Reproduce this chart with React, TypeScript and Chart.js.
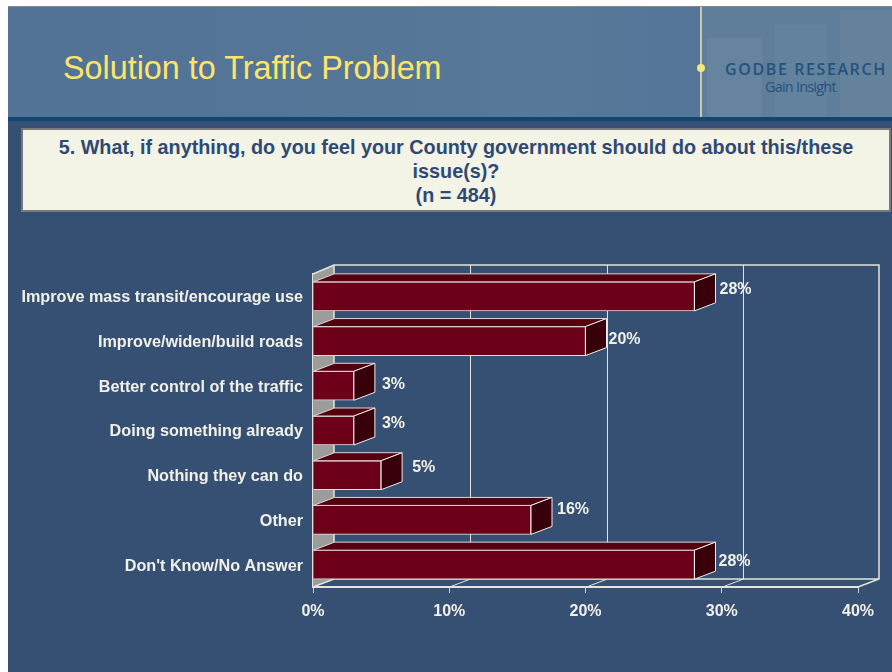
import React, { useEffect, useRef } from "react";
import { Chart, registerables } from "chart.js";

Chart.register(...registerables);

const categories = [
  "Improve mass transit/encourage use",
  "Improve/widen/build roads",
  "Better control of the traffic",
  "Doing something already",
  "Nothing they can do",
  "Other",
  "Don't Know/No Answer",
];
const percentValues = [28, 20, 3, 3, 5, 16, 28];
const axisTicks = [0, 10, 20, 30, 40];

const DEPTH_X = 21;
const DEPTH_Y = 8;
const LINE = "#e4e4dc";
const TEXT = "#f1f1e8";
const FONT = "'Liberation Sans', Arial, sans-serif";
// Hand-placed label offsets of the original slide, relative to each bar's top-right back corner.
const labelNudgeX = [4, 2, 7, 7, 10, 5, 3];
const labelNudgeY = [-7, -1.5, -1.5, -7, -8, -10.5, -3];

function poly(ctx: CanvasRenderingContext2D, pts: number[][], fill: string | null, stroke: string | null, w = 1) {
  ctx.beginPath();
  pts.forEach((p, i) => (i ? ctx.lineTo(p[0], p[1]) : ctx.moveTo(p[0], p[1])));
  ctx.closePath();
  if (fill) {
    ctx.fillStyle = fill;
    ctx.fill();
  }
  if (stroke) {
    ctx.strokeStyle = stroke;
    ctx.lineWidth = w;
    ctx.stroke();
  }
}

const box3d = {
  id: "box3d",
  beforeDatasetsDraw(chart: any) {
    const { ctx, chartArea: a, scales } = chart;
    const x = scales.x;
    const wallTop = a.top - DEPTH_Y - 1;
    ctx.save();
    // side wall
    poly(ctx, [[a.left, a.top], [a.left + DEPTH_X, wallTop], [a.left + DEPTH_X, a.bottom - DEPTH_Y], [a.left, a.bottom]], "#9c9c9c", null);
    // back wall frame
    ctx.strokeStyle = LINE;
    ctx.lineWidth = 1.5;
    ctx.beginPath();
    ctx.moveTo(a.left, a.top);
    ctx.lineTo(a.left + DEPTH_X, wallTop);
    ctx.lineTo(a.right + DEPTH_X, wallTop);
    ctx.lineTo(a.right + DEPTH_X, a.bottom - DEPTH_Y);
    ctx.lineTo(a.right, a.bottom);
    ctx.moveTo(a.left + DEPTH_X, wallTop);
    ctx.lineTo(a.left + DEPTH_X, a.bottom - DEPTH_Y);
    ctx.lineTo(a.right + DEPTH_X, a.bottom - DEPTH_Y);
    ctx.moveTo(a.left + DEPTH_X, a.bottom - DEPTH_Y);
    ctx.lineTo(a.left, a.bottom);
    ctx.stroke();
    // grid on back wall and floor
    ctx.lineWidth = 1;
    ctx.beginPath();
    axisTicks.slice(1, -1).forEach((t) => {
      const px = Math.round(x.getPixelForValue(t)) + 0.5;
      ctx.moveTo(px + DEPTH_X, wallTop);
      ctx.lineTo(px + DEPTH_X, a.bottom - DEPTH_Y);
      ctx.lineTo(px, a.bottom);
    });
    ctx.stroke();
    ctx.restore();
  },
  afterDatasetsDraw(chart: any) {
    const { ctx } = chart;
    const els = chart.getDatasetMeta(0).data;
    ctx.save();
    els.forEach((el: any, i: number) => {
      const r = el.x;
      const l = el.base;
      const t = el.y - el.height / 2;
      const b = el.y + el.height / 2;
      poly(ctx, [[l, t], [l + DEPTH_X, t - DEPTH_Y], [r + DEPTH_X, t - DEPTH_Y], [r, t]], "#55000f", "#ddd6d6");
      poly(ctx, [[r, t], [r + DEPTH_X, t - DEPTH_Y], [r + DEPTH_X, b - DEPTH_Y], [r, b]], "#38000b", "#eeeeee");
      ctx.fillStyle = TEXT;
      ctx.font = `bold 16px ${FONT}`;
      ctx.textAlign = "left";
      ctx.textBaseline = "middle";
      ctx.fillText(`${percentValues[i]}%`, r + DEPTH_X + labelNudgeX[i], el.y + labelNudgeY[i]);
    });
    ctx.restore();
  },
};

export default function App() {
  const ref = useRef<HTMLCanvasElement>(null);
  useEffect(() => {
    const chart = new Chart(ref.current as HTMLCanvasElement, {
      type: "bar",
      plugins: [box3d],
      data: {
        labels: categories,
        datasets: [
          {
            data: percentValues,
            backgroundColor: "#6b0018",
            borderColor: "#e6dcdc",
            borderWidth: 1,
            barThickness: 29,
          },
        ],
      },
      options: {
        indexAxis: "y",
        responsive: false,
        animation: false,
        maintainAspectRatio: false,
        layout: { padding: { top: 274, right: 34, left: 0, bottom: 0 } },
        plugins: { legend: { display: false }, tooltip: { enabled: false } },
        scales: {
          x: {
            min: 0,
            max: 40,
            afterFit: (s: any) => {
              s.height = 85;
            },
            afterBuildTicks: (s: any) => {
              s.ticks = axisTicks.map((value) => ({ value }));
            },
            grid: { drawOnChartArea: false, drawTicks: true, tickLength: 6, color: "#cfcfc8", lineWidth: 1 },
            border: { display: true, color: LINE, width: 2 },
            ticks: {
              maxRotation: 0,
              padding: 9,
              color: TEXT,
              font: { family: FONT, size: 16, weight: "bold" },
              callback: (v: any) => `${v}%`,
            },
          },
          y: {
            afterFit: (s: any) => {
              s.width = 313;
            },
            grid: { display: false },
            border: { display: true, color: LINE, width: 1.5 },
            ticks: {
              padding: 2,
              labelOffset: 1.5,
              color: TEXT,
              font: { family: FONT, size: 16.2, weight: "bold" },
            },
          },
        },
      } as any,
    });
    return () => chart.destroy();
  }, []);

  const abs = (left: number, top: number, width: number, height: number, extra: React.CSSProperties = {}): React.CSSProperties => ({
    position: "absolute",
    left,
    top,
    width,
    height,
    ...extra,
  });

  return (
    <div style={abs(0, 0, 892, 672, { overflow: "hidden", background: "#ffffff", fontFamily: FONT })}>
      <div style={abs(8, 6, 884, 666, { background: "#365073", borderTop: "1px solid #8a8a8a", boxSizing: "border-box" })} />
      <div style={abs(8, 7, 884, 110, { background: "linear-gradient(90deg,#527296 0%,#587899 60%,#567699 78%)" })} />
      <div style={abs(702, 7, 190, 110, { background: "#5f7e9a" })} />
      <div style={abs(707, 38, 55, 79, { background: "#66849f" })} />
      <div style={abs(775, 25, 52, 92, { background: "#63829e" })} />
      <div style={abs(840, 10, 52, 107, { background: "#64829c" })} />
      <div style={abs(700, 7, 2, 110, { background: "#c6ccb0" })} />
      <div style={abs(697, 64, 8, 8, { background: "#f4e77c", borderRadius: "50%" })} />
      <div style={abs(8, 117, 884, 4, { background: "#0f4672" })} />
      <div style={abs(63, 47, 600, 42, { color: "#fde56a", fontSize: 32.35, lineHeight: "42px", whiteSpace: "nowrap" })}>
        Solution to Traffic Problem
      </div>
      <div style={abs(725, 59, 167, 20, { color: "#23527c", fontFamily: "'Open Sans', sans-serif", fontWeight: 600, fontSize: 16, letterSpacing: 1.6, lineHeight: "20px", whiteSpace: "nowrap" })}>
        GODBE RESEARCH
      </div>
      <div style={abs(765, 78, 90, 18, { color: "#23527c", fontFamily: "'Open Sans', sans-serif", fontSize: 14.5, letterSpacing: -0.8, lineHeight: "18px", whiteSpace: "nowrap" })}>
        Gain Insight
      </div>
      <div
        style={abs(21, 128, 870, 84, {
          boxSizing: "border-box",
          background: "#f3f3e6",
          border: "2px solid #77797c",
          color: "#2f4a72",
          fontWeight: "bold",
          fontSize: 19.8,
          lineHeight: "24px",
          textAlign: "center",
          padding: "5px 30px 0",
        })}
      >
        5. What, if anything, do you feel your County government should do about this/these issue(s)?
        <br />
        (n = 484)
      </div>
      <canvas ref={ref} width={892} height={672} style={abs(0, 0, 892, 672, { display: "block" })} />
    </div>
  );
}
